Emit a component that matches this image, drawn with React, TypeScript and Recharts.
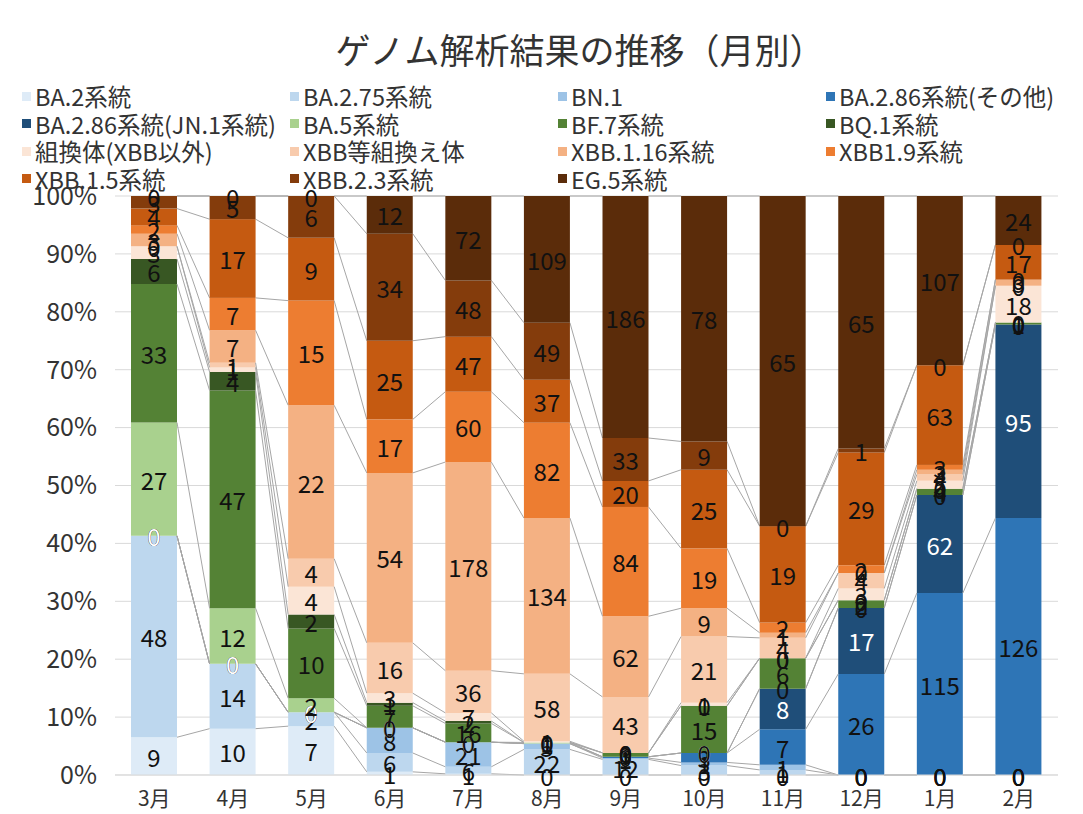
import React from 'react';
import { BarChart, Bar, XAxis, YAxis, CartesianGrid, LabelList } from 'recharts';

const FONT = '"Noto Sans CJK JP", "Noto Sans", sans-serif';

const MONTHS = ['3月', '4月', '5月', '6月', '7月', '8月', '9月', '10月', '11月', '12月', '1月', '2月'];

// 件数（月別）
const BA2 = [9, 10, 7, 1, 1, 0, 0, 0, 0, 0, 0, 0];
const BA275 = [48, 14, 2, 6, 6, 22, 12, 3, 1, 0, 0, 0];
const BN1 = [0, 0, 0, 8, 21, 5, 1, 1, 1, 0, 0, 0];
const BA286 = [0, 0, 0, 0, 0, 0, 1, 3, 7, 26, 115, 126];
const JN1 = [0, 0, 0, 0, 0, 0, 0, 0, 8, 17, 62, 95];
const BA5 = [27, 12, 2, 0, 0, 1, 0, 0, 0, 0, 0, 0];
const BF7 = [33, 47, 10, 7, 16, 0, 3, 15, 6, 2, 4, 1];
const BQ1 = [6, 4, 2, 1, 2, 0, 0, 0, 0, 0, 0, 0];
const REC = [3, 1, 4, 3, 7, 1, 0, 1, 0, 3, 5, 18];
const XBB = [0, 1, 4, 16, 36, 58, 43, 21, 4, 4, 4, 0];
const XBB116 = [3, 7, 22, 54, 178, 134, 62, 9, 1, 0, 3, 3];
const XBB19 = [2, 7, 15, 17, 60, 82, 84, 19, 2, 2, 3, 0];
const XBB15 = [4, 17, 9, 25, 47, 37, 20, 25, 19, 29, 63, 17];
const XBB23 = [3, 5, 6, 34, 48, 49, 33, 9, 0, 1, 0, 0];
const EG5 = [0, 0, 0, 12, 72, 109, 186, 78, 65, 65, 107, 24];

const SERIES = [
  { key: 'ba2', name: 'BA.2系統', color: '#deebf7', values: BA2 },
  { key: 'ba275', name: 'BA.2.75系統', color: '#bdd7ee', values: BA275 },
  { key: 'bn1', name: 'BN.1', color: '#9dc3e6', values: BN1 },
  { key: 'ba286', name: 'BA.2.86系統(その他)', color: '#2e75b6', values: BA286 },
  { key: 'jn1', name: 'BA.2.86系統(JN.1系統)', color: '#1f4e79', values: JN1, label: '#ffffff' },
  { key: 'ba5', name: 'BA.5系統', color: '#a9d18e', values: BA5 },
  { key: 'bf7', name: 'BF.7系統', color: '#548235', values: BF7 },
  { key: 'bq1', name: 'BQ.1系統', color: '#385723', values: BQ1 },
  { key: 'rec', name: '組換体(XBB以外)', color: '#fbe5d6', values: REC },
  { key: 'xbb', name: 'XBB等組換え体', color: '#f8cbad', values: XBB },
  { key: 'xbb116', name: 'XBB.1.16系統', color: '#f4b183', values: XBB116 },
  { key: 'xbb19', name: 'XBB1.9系統', color: '#ed7d31', values: XBB19 },
  { key: 'xbb15', name: 'XBB.1.5系統', color: '#c55a11', values: XBB15 },
  { key: 'xbb23', name: 'XBB.2.3系統', color: '#843c0c', values: XBB23 },
  { key: 'eg5', name: 'EG.5系統', color: '#5b2c0a', values: EG5 },
];

const data = MONTHS.map((month, i) => {
  const row: Record<string, any> = { month };
  SERIES.forEach((s) => (row[s.key] = s.values[i]));
  return row;
});

// 各系列の上端（累積比率）
const totals = MONTHS.map((_, i) => SERIES.reduce((a, s) => a + s.values[i], 0));
const CUM = SERIES.map((_, si) =>
  MONTHS.map((__, i) => SERIES.slice(0, si + 1).reduce((a, s) => a + s.values[i], 0) / totals[i])
);
const lowOf = (si: number, i: number) => (si > 0 ? CUM[si - 1][i] : 0);

const CHART_W = 1083;
const CHART_H = 634;
const Y_AXIS_W = 115;
const MARGIN = { top: 16, right: 25, bottom: 0, left: 0 };
const PLOT_LEFT = MARGIN.left + Y_AXIS_W;
const STEP = (CHART_W - MARGIN.left - MARGIN.right - Y_AXIS_W) / MONTHS.length;
const ANCHOR = SERIES.findIndex((s) => s.key === 'xbb15'); // 全月で値のある系列

// XBB.1.5の矩形から縦の目盛りを逆算
function scaleFrom(y: number, height: number, i: number) {
  const frac = CUM[ANCHOR][i] - lowOf(ANCHOR, i);
  const H = height / frac;
  const top = y - H * (1 - CUM[ANCHOR][i]);
  return (p: number) => top + H * (1 - p);
}

// 系列線（隣の棒へ）
function LinesShape(props: any) {
  const { x, y, width, height, fill } = props;
  const i = Math.floor((x + width / 2 - PLOT_LEFT) / STEP);
  const toY = scaleFrom(y, height, i);
  const lines: any[] = [];
  if (i < MONTHS.length - 1) {
    CUM.forEach((c, si) => {
      lines.push(
        <line
          key={si}
          x1={x + width}
          y1={toY(c[i])}
          x2={x + STEP}
          y2={toY(c[i + 1])}
          stroke="#a6a6a6"
          strokeWidth={1}
        />
      );
    });
  }
  return (
    <g>
      {lines}
      <rect x={x} y={y} width={width} height={Math.max(height, 0)} fill={fill} />
    </g>
  );
}

// 0件も含めた全系列のデータラベル
function AllLabels(props: any) {
  const vb = props.viewBox;
  if (!vb) return null;
  const { x, y, width, height } = vb;
  const i = Math.floor((x + width / 2 - PLOT_LEFT) / STEP);
  const toY = scaleFrom(y, height, i);
  return (
    <g>
      {SERIES.map((s, si) => (
        <text
          key={s.key}
          x={x + width / 2}
          y={toY((lowOf(si, i) + CUM[si][i]) / 2)}
          textAnchor="middle"
          dominantBaseline="central"
          fill={s.label ?? '#111'}
          fontSize={24}
          fontFamily={FONT}
        >
          {s.values[i]}
        </text>
      ))}
    </g>
  );
}

const LEGEND_COLS = [22, 290, 558, 826];

export default function App() {
  return (
    <div
      style={{
        position: 'absolute',
        left: 0,
        top: 0,
        width: 1083,
        height: 814,
        background: '#fff',
        fontFamily: FONT,
        overflow: 'hidden',
      }}
    >
      <div
        style={{
          position: 'absolute',
          top: 23,
          left: 0,
          width: 1160,
          textAlign: 'center',
          fontSize: 35,
          color: '#333',
          whiteSpace: 'nowrap',
        }}
      >
        ゲノム解析結果の推移（月別）
      </div>

      {SERIES.map((s, i) => (
        <div
          key={s.key}
          style={{
            position: 'absolute',
            left: LEGEND_COLS[i % 4],
            top: 82 + Math.floor(i / 4) * 27.5,
            height: 28,
            display: 'flex',
            alignItems: 'center',
            fontSize: 23.5,
            color: '#333',
            whiteSpace: 'nowrap',
          }}
        >
          <span style={{ display: 'inline-block', width: 9, height: 9, background: s.color, marginRight: 4 }} />
          {s.name}
        </div>
      ))}

      <div style={{ position: 'absolute', left: 0, top: 180 }}>
        <BarChart
          width={CHART_W}
          height={CHART_H}
          data={data}
          margin={MARGIN}
          stackOffset="expand"
          barSize={46}
        >
          <CartesianGrid vertical={false} stroke="#d9d9d9" />
          <XAxis
            dataKey="month"
            height={39}
            tickLine={false}
            axisLine={{ stroke: '#d9d9d9' }}
            tickMargin={10}
            tick={{ fontSize: 21, fill: '#333', fontFamily: FONT }}
            interval={0}
          />
          <YAxis
            width={Y_AXIS_W}
            domain={[0, 1]}
            ticks={[0, 0.1, 0.2, 0.3, 0.4, 0.5, 0.6, 0.7, 0.8, 0.9, 1]}
            tickFormatter={(v: number) => `${Math.round(v * 100)}%`}
            tickLine={false}
            axisLine={false}
            tickMargin={12}
            tick={{ fontSize: 25, fill: '#333', fontFamily: FONT }}
          />
          {SERIES.map((s) => (
            <Bar
              key={s.key}
              dataKey={s.key}
              name={s.name}
              stackId="a"
              fill={s.color}
              isAnimationActive={false}
              shape={s.key === 'xbb15' ? LinesShape : undefined}
            >
              {s.key === 'xbb15' && <LabelList dataKey={s.key} content={AllLabels} />}
            </Bar>
          ))}
        </BarChart>
      </div>
    </div>
  );
}
